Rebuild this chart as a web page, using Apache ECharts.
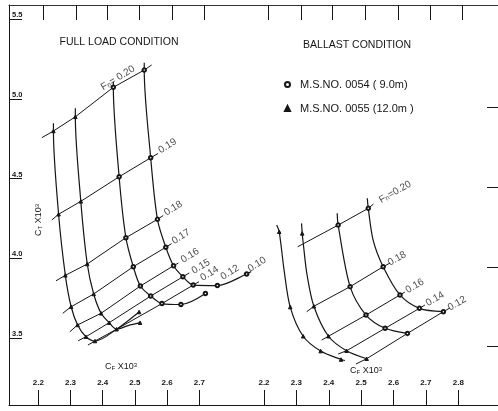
<!DOCTYPE html>
<html>
<head>
<meta charset="utf-8">
<script src="https://cdn.jsdelivr.net/npm/echarts@6/dist/echarts.min.js"></script>
<style>
  html, body { margin: 0; padding: 0; background: #fff; }
  #chart { width: 498px; height: 411px; }
</style>
</head>
<body>
<div id="chart"></div>
<script>
// CF x10^3 ticks (bottom), and the slightly skewed ticks on the top edge of the scan
const tickL = [2.2, 2.3, 2.4, 2.5, 2.6, 2.7];
const tickR = [2.2, 2.3, 2.4, 2.5, 2.6, 2.7, 2.8];
const topTickL = [2.215, 2.317, 2.413, 2.513, 2.615, 2.715];
const topTickR = [2.212, 2.314, 2.41, 2.512, 2.614, 2.713, 2.812];
// CT x10^3 ticks
const yTicks = [3.5, 4.0, 4.5, 5.0, 5.5];
const rightYTicks = [3.45, 3.945, 4.447, 4.948];

// points: [CF, CT, Fn]  (Fn number = on that Fn line, 'm' = marker only, null = no marker)
// full load condition
const curveA = [[2.247, 4.846, null], [2.247, 4.798, 0.20], [2.263, 4.276, 0.19], [2.284, 3.893, 0.18],
  [2.302, 3.696, 0.17], [2.322, 3.582, 0.16], [2.348, 3.508, 0.15], [2.376, 3.481, 0.14],
  [2.443, 3.555, null], [2.513, 3.663, 'm']];
const curveB = [[2.315, 4.940, null], [2.315, 4.887, 0.20], [2.332, 4.357, 0.19], [2.352, 3.964, 0.18],
  [2.372, 3.776, 0.17], [2.395, 3.655, 0.16], [2.420, 3.596, 0.15], [2.443, 3.555, 0.14],
  [2.479, 3.578, null], [2.516, 3.596, 'm']];
const curveC = [[2.433, 5.107, null], [2.433, 5.072, 0.20], [2.451, 4.511, 0.19], [2.472, 4.129, 0.18],
  [2.495, 3.947, 0.17], [2.517, 3.826, 0.16], [2.549, 3.763, 0.15], [2.584, 3.716, 0.14],
  [2.643, 3.710, 'm'], [2.719, 3.779, 'm']];
const curveD = [[2.529, 5.226, null], [2.529, 5.180, 0.20], [2.549, 4.630, 0.19], [2.570, 4.244, 0.18],
  [2.596, 4.069, 0.17], [2.620, 3.953, 0.16], [2.649, 3.884, 0.15], [2.681, 3.832, 0.14],
  [2.756, 3.829, 'm'], [2.847, 3.901, 'm'], [2.861, 3.917, null]];
const fnLinesL = [0.20, 0.19, 0.18, 0.17, 0.16, 0.15, 0.14];
const fnStartL = [[2.211, 4.756], [2.242, 4.240], [2.255, 3.859], [2.276, 3.655], [2.298, 3.539], [2.324, 3.483], [2.354, 3.456]];
const fnEndL = [[2.552, 5.212], [2.572, 4.657], [2.588, 4.268], [2.614, 4.092], [2.635, 3.970], [2.669, 3.908], [2.699, 3.853]];
const fnLabelsL = [[2.447, 5.130, 'Fn= 0.20'], [2.601, 4.704, '0.19'], [2.619, 4.313, '0.18'], [2.643, 4.135, '0.17'],
  [2.671, 4.017, '0.16'], [2.705, 3.948, '0.15'], [2.732, 3.904, '0.14'], [2.795, 3.911, '0.12'], [2.879, 3.961, '0.10']];

// ballast condition
const curveE = [[2.239, 4.208, null], [2.247, 4.166, 'm'], [2.262, 3.926, null], [2.281, 3.694, 'm'],
  [2.321, 3.511, 'm'], [2.375, 3.418, 'm'], [2.438, 3.365, 'm'], [2.450, 3.359, null]];
const curveF = [[2.316, 4.219, null], [2.318, 4.156, 'm'], [2.321, 4.097, null], [2.333, 3.895, null],
  [2.354, 3.699, 0.18], [2.399, 3.511, 0.16], [2.455, 3.420, 0.14], [2.517, 3.370, 0.12]];
const curveG = [[2.426, 4.282, null], [2.429, 4.208, 0.20], [2.466, 3.822, 0.18], [2.515, 3.644, 0.16],
  [2.574, 3.561, 0.14], [2.643, 3.529, 0.12]];
const curveH = [[2.519, 4.376, null], [2.522, 4.313, 0.20], [2.537, 4.114, null], [2.568, 3.947, 0.18],
  [2.620, 3.770, 0.16], [2.680, 3.686, 0.14], [2.754, 3.665, 0.12]];
const fnLinesR = [0.20, 0.18, 0.16, 0.14, 0.12];
const fnStartR = [[2.304, 4.072], [2.332, 3.665], [2.378, 3.487], [2.429, 3.400], [2.484, 3.337]];
const fnEndR = [[2.538, 4.340], [2.589, 3.970], [2.635, 3.788], [2.697, 3.707], [2.774, 3.688]];
const fnLabelsR = [[2.605, 4.415, 'Fn=0.20'], [2.611, 3.998, '0.18'], [2.666, 3.826, '0.16'], [2.728, 3.745, '0.14'], [2.796, 3.716, '0.12']];

const NAME_CIRCLE = 'M.S.NO. 0054 ( 9.0m)';
const NAME_TRI = 'M.S.NO. 0055 (12.0m )';
const INK = '#161616';
const FONT = 'Liberation Sans';

// axis extents so the scan's tick positions line up
const X_L = [2.109, 2.8947];
const X_R = [2.1938, 2.9227];
const Y_RANGE = [3.080, 5.588];

const chart = echarts.init(document.getElementById('chart'), null, { renderer: 'canvas' });

function curveData(pts) {
  return pts.map(p => p[2] === null ? { value: [p[0], p[1]], symbol: 'none' } : { value: [p[0], p[1]] });
}

function fnLine(fn, start, end, curves) {
  const pts = [start];
  curves.forEach(c => c.forEach(p => { if (p[2] === fn) pts.push([p[0], p[1]]); }));
  pts.push(end);
  return pts;
}

function fmtFn(t) {
  if (t.indexOf('Fn') === 0) return '{f|F}{n|n}{f|' + t.slice(2) + '}';
  return t;
}

const series = [];
function addGroup(idx, curves, kinds, lines, starts, ends, labels, rot) {
  lines.forEach((fn, i) => {
    series.push({
      type: 'line', xAxisIndex: idx * 2, yAxisIndex: idx, silent: true, clip: false,
      data: fnLine(fn, starts[i], ends[i], curves), symbol: 'none',
      lineStyle: { color: INK, width: 1 }, z: 2
    });
  });
  curves.forEach((c, i) => {
    const tri = kinds[i] === 'tri';
    series.push({
      name: tri ? NAME_TRI : NAME_CIRCLE,
      type: 'line', xAxisIndex: idx * 2, yAxisIndex: idx, clip: false,
      data: curveData(c), smooth: 0.3,
      symbol: tri ? 'triangle' : 'emptyCircle', symbolSize: 3.5,
      showSymbol: true,
      lineStyle: { color: INK, width: 1.2 },
      itemStyle: { color: INK, borderColor: INK, borderWidth: 1 },
      z: 3
    });
  });
  series.push({
    type: 'scatter', xAxisIndex: idx * 2, yAxisIndex: idx, silent: true, clip: false,
    data: labels.map(d => ({ value: [d[0], d[1]], name: d[2] })),
    symbolSize: 1, itemStyle: { color: 'rgba(0,0,0,0)' },
    label: {
      show: true, position: 'inside', rotate: rot, color: INK, fontSize: 10, fontFamily: FONT,
      formatter: p => fmtFn(p.name),
      rich: { f: { fontSize: 10, fontFamily: FONT, color: INK }, n: { fontSize: 7, fontFamily: FONT, color: INK, verticalAlign: 'bottom' } }
    },
    z: 4
  });
}
addGroup(0, [curveA, curveB, curveC, curveD], ['tri', 'tri', 'circ', 'circ'], fnLinesL, fnStartL, fnEndL, fnLabelsL, 32);
addGroup(1, [curveE, curveF, curveG, curveH], ['tri', 'tri', 'circ', 'circ'], fnLinesR, fnStartR, fnEndR, fnLabelsR, 30);

function bottomAxis(grid, range, ticks) {
  return {
    type: 'value', gridIndex: grid, position: 'bottom', min: range[0], max: range[1],
    axisLine: { show: true, lineStyle: { color: INK, width: 1 } },
    axisTick: { show: true, inside: true, length: 15, customValues: ticks, lineStyle: { color: INK } },
    axisLabel: { show: true, inside: true, margin: 18, customValues: ticks, formatter: v => v.toFixed(1),
      fontSize: 8, fontWeight: 'bold', color: INK, fontFamily: FONT },
    splitLine: { show: false }
  };
}
function topAxis(grid, range, ticks) {
  return {
    type: 'value', gridIndex: grid, position: 'top', min: range[0], max: range[1],
    axisLine: { show: true, lineStyle: { color: '#333', width: 1 } },
    axisTick: { show: true, inside: true, length: 15, customValues: ticks, lineStyle: { color: INK } },
    axisLabel: { show: false },
    splitLine: { show: false }
  };
}

const sub = { c: { fontSize: 9, fontFamily: FONT, fill: INK, color: INK }, s: { fontSize: 6, fontFamily: FONT, verticalAlign: 'bottom', color: INK, fill: INK }, p: { fontSize: 6, fontFamily: FONT, verticalAlign: 'top', color: INK, fill: INK } };
function textEl(x, y, text, size, rotation, rich) {
  return {
    type: 'text', x: x, y: y, rotation: rotation || 0, silent: true,
    style: { text: text, fill: INK, fontSize: size, fontFamily: FONT, align: 'center', verticalAlign: 'middle',
      textAlign: 'center', textVerticalAlign: 'middle', rich: rich }
  };
}

chart.setOption({
  animation: false,
  backgroundColor: '#fff',
  grid: [
    { left: 9, top: 5, width: 253, height: 400 },
    { left: 262, top: 5, width: 236, height: 400 }
  ],
  xAxis: [bottomAxis(0, X_L, tickL), topAxis(0, X_L, topTickL), bottomAxis(1, X_R, tickR), topAxis(1, X_R, topTickR)],
  yAxis: [
    {
      type: 'value', gridIndex: 0, position: 'left', min: Y_RANGE[0], max: Y_RANGE[1],
      axisLine: { show: true, lineStyle: { color: INK } },
      axisTick: { show: true, inside: true, length: 13, customValues: yTicks, lineStyle: { color: INK } },
      axisLabel: { show: true, inside: true, margin: 3, customValues: yTicks, verticalAlign: 'bottom',
        formatter: v => v.toFixed(1), fontSize: 7.5, fontWeight: 'bold', color: INK, fontFamily: FONT },
      splitLine: { show: false }
    },
    {
      type: 'value', gridIndex: 1, position: 'right', min: Y_RANGE[0], max: Y_RANGE[1],
      axisLine: { show: false },
      axisTick: { show: true, inside: true, length: 11, customValues: rightYTicks, lineStyle: { color: INK } },
      axisLabel: { show: false },
      splitLine: { show: false }
    }
  ],
  legend: {
    orient: 'vertical', left: 279, top: 74, itemGap: 13, itemWidth: 5, itemHeight: 5,
    data: [{ name: NAME_CIRCLE, icon: 'emptyCircle' }, { name: NAME_TRI, icon: 'triangle' }],
    textStyle: { fontSize: 11, color: INK, fontFamily: FONT, padding: [0, 0, 0, 5] },
    selectedMode: false
  },
  graphic: [
    textEl(119, 42, 'FULL LOAD CONDITION', 10.5),
    textEl(357, 45, 'BALLAST CONDITION', 10.5),
    textEl(39, 220, '{c|C}{s|T}{c| X10}{p|3}', 9, Math.PI / 2, sub),
    textEl(121, 367, '{c|C}{s|F}{c| X10}{p|3}', 9, 0, sub),
    textEl(366, 371, '{c|C}{s|F}{c| X10}{p|3}', 9, 0, sub)
  ],
  series: series
});
</script>
</body>
</html>
